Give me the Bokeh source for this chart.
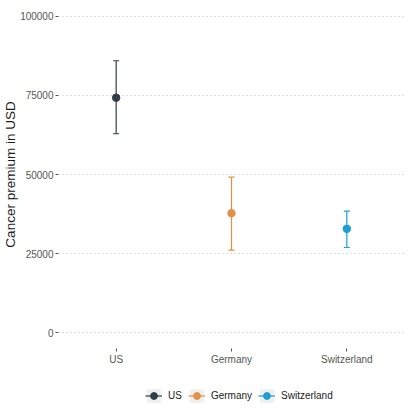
from bokeh.plotting import figure
from bokeh.layouts import column
from bokeh.models import (ColumnDataSource, FactorRange, Range1d, FixedTicker,
                          Legend, LegendItem, BasicTickFormatter)
from bokeh.embed import file_html
from bokeh.resources import INLINE

countries = ["US", "Germany", "Switzerland"]
premium = [74300, 37750, 32800]
lower = [62900, 26050, 26900]
upper = [86000, 49150, 38400]
colors = ["#2E3D47", "#E09146", "#1A9FD6"]
y_ticks = [0, 25000, 50000, 75000, 100000]

FONT = "Liberation Sans"

p = figure(width=404, height=387, output_backend="svg", toolbar_location=None,
           x_range=FactorRange(factors=countries, range_padding=0.0,
                               range_padding_units="absolute"),
           y_range=Range1d(-5063, 105063),
           min_border_left=0, min_border_right=0, min_border_top=0,
           min_border_bottom=39)
p.outline_line_color = None
p.background_fill_color = "white"
p.border_fill_color = "white"

# grid
p.xgrid.grid_line_color = None
p.ygrid.grid_line_color = "#BDBDBD"
p.ygrid.grid_line_dash = "1 3"
p.ygrid.grid_line_width = 1

# y axis
p.yaxis.ticker = FixedTicker(ticks=y_ticks)
p.yaxis.formatter = BasicTickFormatter(use_scientific=False)
p.yaxis.axis_line_color = None
p.yaxis.minor_tick_line_color = None
p.yaxis.major_tick_in = 0
p.yaxis.major_tick_out = 3
p.yaxis.major_tick_line_color = "#555555"
p.yaxis.major_label_standoff = 2
p.yaxis.major_label_text_font = FONT
p.yaxis.major_label_text_font_size = "10px"
p.yaxis.major_label_text_color = "#555555"
p.yaxis.axis_label = "Cancer premium in USD"
p.yaxis.axis_label_text_font = FONT
p.yaxis.axis_label_text_font_size = "13.5px"
p.yaxis.axis_label_text_font_style = "normal"
p.yaxis.axis_label_text_color = "#1A1A1A"
p.yaxis.axis_label_standoff = -1

# x axis
p.xaxis.axis_line_color = None
p.xaxis.major_tick_in = 0
p.xaxis.major_tick_out = 3
p.xaxis.major_tick_line_color = "#555555"
p.xaxis.major_label_standoff = 2
p.xaxis.major_label_text_font = FONT
p.xaxis.major_label_text_font_size = "10px"
p.xaxis.major_label_text_color = "#555555"

for c, m, lo, hi, col in zip(countries, premium, lower, upper, colors):
    src = ColumnDataSource(dict(x=[c], y=[m], lo=[lo], hi=[hi]))
    p.segment(x0="x", y0="lo", x1="x", y1="hi", source=src,
              line_color=col, line_width=1.2)
    p.scatter(x="x", y="lo", source=src, marker="dash", size=6,
              line_color=col, line_width=1.2)
    p.scatter(x="x", y="hi", source=src, marker="dash", size=6,
              line_color=col, line_width=1.2)
    p.scatter(x="x", y="y", source=src, marker="circle", size=7.5,
              fill_color=col, line_color=col)

# legend strip (its own small figure so it can sit at the bottom)
lg = figure(width=404, height=17, output_backend="svg", toolbar_location=None,
            x_range=FactorRange(factors=countries), y_range=Range1d(0, 1),
            x_axis_location=None, y_axis_location=None,
            min_border_left=0, min_border_right=0, min_border_top=0,
            min_border_bottom=0)
lg.outline_line_color = None
lg.grid.visible = False
items = []
for c, col in zip(countries, colors):
    nan_src = ColumnDataSource(dict(x=[c], y=[float("nan")]))
    key = lg.rect(x="x", y="y", width=1, height=1, source=nan_src,
                  fill_color="#EFEFEF", line_color=None)
    seg = lg.segment(x0="x", y0="y", x1="x", y1="y", source=nan_src,
                     line_color=col, line_width=1.2)
    pt = lg.scatter(x="x", y="y", source=nan_src, marker="circle", size=7.5,
                    fill_color=col, line_color=col)
    items.append(LegendItem(label=c, renderers=[key, seg, pt]))

legend = Legend(items=items, orientation="horizontal",
                location=(87, 0),
                glyph_width=17, glyph_height=17, label_standoff=6,
                label_width=10, spacing=6, padding=0, margin=0,
                label_text_font=FONT, label_text_font_size="10px",
                label_text_color="#1A1A1A",
                border_line_color=None, background_fill_alpha=0)
lg.add_layout(legend, "center")

layout = column(p, lg, spacing=0)
open("out.html", "w").write(file_html(layout, INLINE))
